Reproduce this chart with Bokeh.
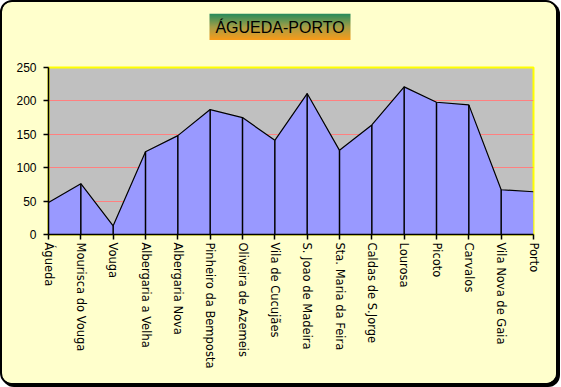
import numpy as np
from bokeh.plotting import figure
from bokeh.layouts import column
from bokeh.models import Range1d, FixedTicker, Label
from bokeh.embed import file_html
from bokeh.resources import INLINE

stations = ["Águeda", "Mourisca do Vouga", "Vouga", "Albergaria a Velha",
            "Albergaria Nova", "Pinheiro da Bemposta", "Oliveira de Azemeis",
            "Vila de Cucujães", "S. Joao de Madeira", "Sta. Maria da Feira",
            "Caldas de S.Jorge", "Lourosa", "Picoto", "Carvalos",
            "Vila Nova de Gaia", "Porto"]
altitude = [48, 76, 13, 124, 148, 187, 175, 141, 211, 126, 164, 221, 198, 194, 67, 64]
y_ticks = [0, 50, 100, 150, 200, 250]
title_text = "ÁGUEDA-PORTO"

BG = "#FFFFCC"
INNER_W = 554
FRAME_L, FRAME_R = 46, 531          # frame edges in canvas pixels
BOX_L, BOX_R = 207, 348             # title box edges in canvas pixels

# ---------- title strip (gradient box with the title) ----------
pt = figure(width=INNER_W, height=38, output_backend="svg", toolbar_location=None,
            x_range=Range1d(FRAME_L, FRAME_R), y_range=Range1d(0, 1),
            min_border_left=FRAME_L, min_border_right=INNER_W - FRAME_R,
            min_border_top=11, min_border_bottom=0,
            border_fill_color=BG, background_fill_color=None,
            outline_line_color=None)
pt.axis.visible = False
pt.grid.visible = False

top_c = np.array([40, 140, 92])
mid_c = np.array([165, 158, 70])
bot_c = np.array([250, 155, 25])
rows = 27
grad = np.zeros((rows, 2), dtype=np.uint32)
view = grad.view(dtype=np.uint8).reshape((rows, 2, 4))
for i in range(rows):
    t = i / (rows - 1)            # row 0 = bottom (orange)
    if t < 0.5:
        c = bot_c + (mid_c - bot_c) * (t / 0.5)
    else:
        c = mid_c + (top_c - mid_c) * ((t - 0.5) / 0.5)
    view[i, :, 0] = int(c[0])
    view[i, :, 1] = int(c[1])
    view[i, :, 2] = int(c[2])
    view[i, :, 3] = 255
pt.image_rgba(image=[grad], x=BOX_L, y=0, dw=BOX_R - BOX_L, dh=1)
pt.add_layout(Label(x=(BOX_L + BOX_R) / 2, y=0.5, text=title_text, text_align="center",
                    text_baseline="middle", text_font="Liberation Sans",
                    text_font_size="16px", text_color="black"))

# ---------- main chart ----------
H = 343
xs = list(range(len(stations)))
p = figure(width=INNER_W, height=H, output_backend="svg", toolbar_location=None,
           x_range=Range1d(0, len(stations) - 1), y_range=Range1d(0, 250),
           min_border_left=FRAME_L, min_border_right=INNER_W - FRAME_R,
           min_border_top=27, min_border_bottom=H - 194,
           border_fill_color=BG, background_fill_color="#C0C0C0",
           outline_line_color="#FFFF00", outline_line_width=2)

p.xgrid.grid_line_color = None
p.ygrid.ticker = FixedTicker(ticks=[50, 100, 150, 200])
p.ygrid.grid_line_color = "#FF8080"
p.ygrid.grid_line_width = 1

p.varea(x=xs, y1=[0] * len(xs), y2=altitude, fill_color="#9999FF")
p.line(x=xs, y=altitude, line_color="black", line_width=1.2)
p.segment(x0=xs[1:-1], y0=[0] * (len(xs) - 2), x1=xs[1:-1], y1=altitude[1:-1],
          line_color="black", line_width=1.5)

for ax in (p.xaxis[0], p.yaxis[0]):
    ax.axis_line_color = "black"
    ax.axis_line_width = 1.5
    ax.major_tick_line_color = "black"
    ax.major_tick_line_width = 1.5
    ax.minor_tick_line_color = None
    ax.major_tick_in = 0
    ax.major_tick_out = 5
    ax.major_label_text_color = "black"

p.xaxis.major_label_text_font = "DejaVu Sans"
p.xaxis.major_label_text_font_size = "11.5px"
p.yaxis.major_label_text_font = "Liberation Sans"
p.yaxis.major_label_text_font_size = "12px"
p.xaxis.ticker = FixedTicker(ticks=xs)
p.xaxis.major_label_overrides = {i: s for i, s in enumerate(stations)}
p.xaxis.major_label_orientation = "vertical"
p.xaxis.major_label_standoff = 3
p.yaxis.ticker = FixedTicker(ticks=y_ticks)
p.yaxis.major_label_standoff = 7

layout = column(pt, p, spacing=0,
                styles={"border": "2px solid black", "border-radius": "12px",
                        "box-shadow": "2px 2px 0 0 black", "overflow": "hidden",
                        "background-color": BG})

open("out.html", "w").write(file_html(layout, INLINE))
